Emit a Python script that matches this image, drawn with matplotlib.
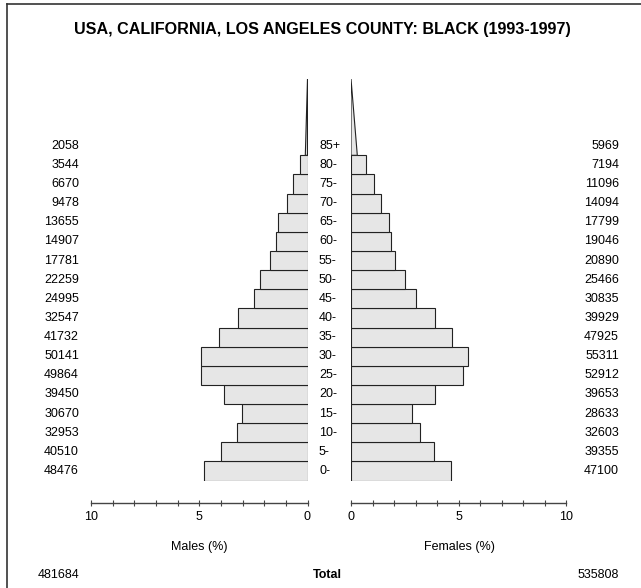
import numpy as np
import matplotlib
matplotlib.use('Agg')
import matplotlib.pyplot as plt
from matplotlib.patches import Polygon
from matplotlib.lines import Line2D
from matplotlib.transforms import blended_transform_factory

plt.rcParams['font.family'] = ['Liberation Sans', 'DejaVu Sans']

# population by five-year age group, youngest first
age_labels = ['0-', '5-', '10-', '15-', '20-', '25-', '30-', '35-', '40-',
              '45-', '50-', '55-', '60-', '65-', '70-', '75-', '80-', '85+']
males = [48476, 40510, 32953, 30670, 39450, 49864, 50141, 41732, 32547,
         24995, 22259, 17781, 14907, 13655, 9478, 6670, 3544, 2058]
females = [47100, 39355, 32603, 28633, 39653, 52912, 55311, 47925, 39929,
           30835, 25466, 20890, 19046, 17799, 14094, 11096, 7194, 5969]
male_total = 481684
female_total = 535808
title = 'USA, CALIFORNIA, LOS ANGELES COUNTY: BLACK (1993-1997)'

W, H = 641, 588
grand = male_total + female_total
pm = np.array(males) / grand * 100
pf = np.array(females) / grand * 100
age_start = np.arange(len(age_labels)) * 5

fill = '#e6e6e6'
edge = '#222222'
fs = 9

def fx(x):
    return x / W

def fy(y):
    return 1 - y / H

fig = plt.figure(figsize=(W / 100, H / 100), dpi=100)

# axes placed in pixel terms: age 0 at y=480.6, 3.827 px per year
bottom = fy(480.6)
height = 105 * 3.827 / H
axm = fig.add_axes([fx(91), bottom, fx(307.5) - fx(91), height])
axf = fig.add_axes([fx(351), bottom, fx(566) - fx(351), height])

for ax, p in ((axm, pm), (axf, pf)):
    ax.barh(age_start[:-1] + 2.5, p[:-1], height=5, color=fill,
            edgecolor=edge, linewidth=0.8)
    # open-ended top group drawn as a triangle of the same area
    tri = Polygon([(0, 85), (p[-1] / 2, 85), (0, 105)], closed=True,
                  facecolor=fill, edgecolor=edge, linewidth=0.8)
    ax.add_patch(tri)
    ax.set_ylim(0, 105)
    for s in ('top', 'left', 'right'):
        ax.spines[s].set_visible(False)
    ax.spines['bottom'].set_position(('outward', 15.8))
    ax.spines['bottom'].set_color('#444444')
    ax.spines['bottom'].set_linewidth(1.0)
    ax.set_yticks([])
    ax.set_xticks([0, 5, 10])
    ax.set_xticks(range(11), minor=True)
    ax.tick_params(axis='x', which='both', direction='inout', length=4,
                   width=0.8, color='#444444', labelsize=fs, pad=4.2)
    ax.patch.set_visible(False)

axm.set_xlim(10, 0)
axf.set_xlim(0, 10)

# side counts and age labels, aligned to the age rows
tr = blended_transform_factory(fig.transFigure, axm.transData)
for i, lab in enumerate(age_labels):
    yc = age_start[i] + 2.5
    fig.text(fx(79), yc, str(males[i]), transform=tr, ha='right',
             va='center', fontsize=fs)
    fig.text(fx(619), yc, str(females[i]), transform=tr, ha='right',
             va='center', fontsize=fs)
    fig.text(fx(319), yc, lab, transform=tr, ha='left', va='center',
             fontsize=fs)

fig.text(fx(322), fy(29.5), title, ha='center', va='center',
         fontsize=11.6, fontweight='bold')
fig.text(fx(199), fy(547), 'Males (%)', ha='center', va='center', fontsize=fs)
fig.text(fx(459), fy(547), 'Females (%)', ha='center', va='center', fontsize=fs)
fig.text(fx(79), fy(575), str(male_total), ha='right', va='center', fontsize=fs)
fig.text(fx(619), fy(575), str(female_total), ha='right', va='center', fontsize=fs)
fig.text(fx(327), fy(575), 'Total', ha='center', va='center', fontsize=fs,
         fontweight='bold')

# frame on the left and top edges
fig.add_artist(Line2D([fx(6.5), fx(6.5)], [0, fy(4)], color='#333333', lw=1.2))
fig.add_artist(Line2D([fx(6.5), 1], [fy(4), fy(4)], color='#333333', lw=1.2))

fig.savefig('out.png', dpi=100)
